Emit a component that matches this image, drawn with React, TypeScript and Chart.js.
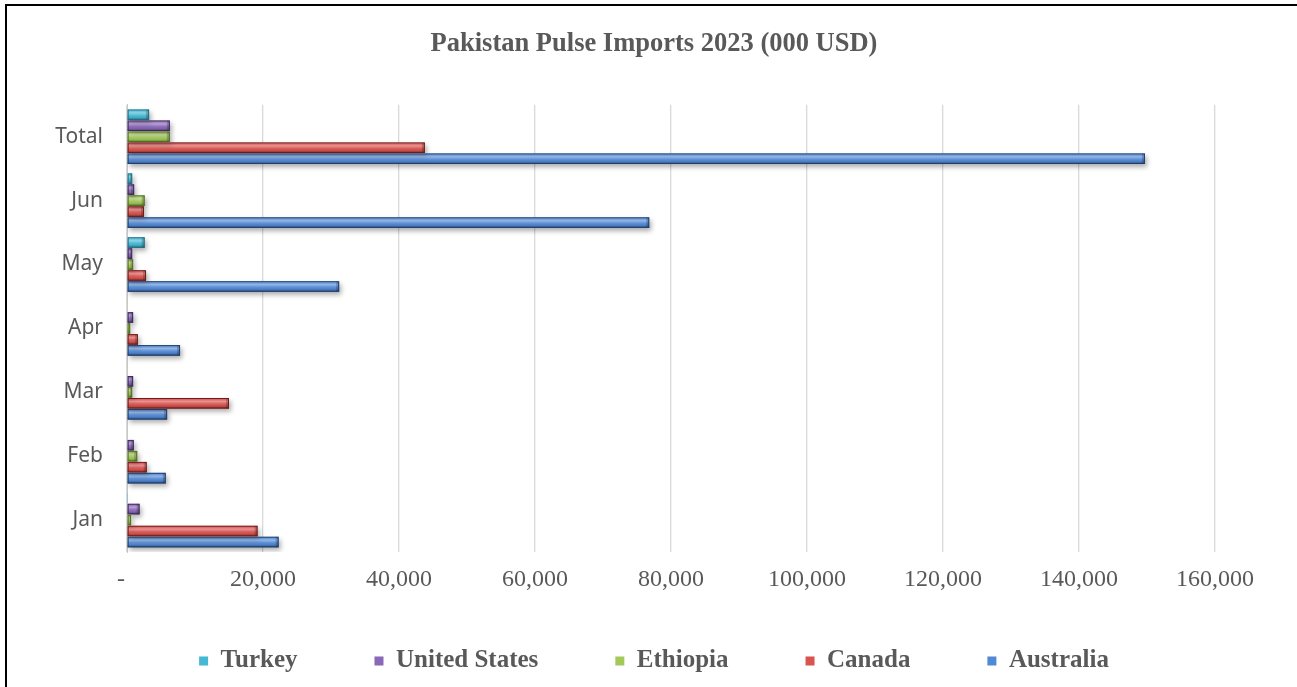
import React, { useEffect, useRef } from "react";
import { Chart, registerables } from "chart.js";

Chart.register(...registerables);

// ---- data (thousand USD) ----
const categories = ["Jan", "Feb", "Mar", "Apr", "May", "Jun", "Total"];
const turkey = [50, 0, 0, 0, 2600, 760, 3250];
const unitedStates = [1850, 1000, 900, 900, 760, 1050, 6300];
const ethiopia = [600, 1500, 760, 470, 900, 2600, 6300];
const canada = [19200, 2900, 15000, 1600, 2800, 2500, 43800];
const australia = [22300, 5700, 5900, 7800, 31200, 76800, 149700];

const seriesNames = ["Turkey", "United States", "Ethiopia", "Canada", "Australia"];
const seriesValues = [turkey, unitedStates, ethiopia, canada, australia];
const seriesFill = ["#45B8D4", "#8A68B8", "#A2C95A", "#D9534F", "#5289D4"];
const seriesEdge = ["#226F84", "#3E2A5E", "#546F22", "#6E1C1A", "#223F6C"];

const xMin = 0;
const xMax = 160000;
const xStep = 20000;

const TEXT = "#595959";
const SERIF = "'Liberation Serif', 'Times New Roman', serif";
const SANS = "'Noto Sans', 'Open Sans', sans-serif";
const Y_FONT_SIZE = 21;

const bevelPlugin = {
  id: "bevel",
  beforeDatasetsDraw(chart: any) {
    const ctx = chart.ctx;
    ctx.save();
    ctx.shadowColor = "rgba(0,0,0,0.33)";
    ctx.shadowBlur = 5;
    ctx.shadowOffsetX = 2;
    ctx.shadowOffsetY = 3;
  },
  afterDatasetsDraw(chart: any) {
    const ctx = chart.ctx;
    ctx.restore();
    chart.data.datasets.forEach((ds: any, i: number) => {
      const meta = chart.getDatasetMeta(i);
      if (meta.hidden) return;
      meta.data.forEach((el: any) => {
        const p = el.getProps(["x", "y", "base", "height"], true);
        const left = Math.min(p.x, p.base);
        const right = Math.max(p.x, p.base);
        const w = right - left;
        if (w < 0.6) return;
        const h = p.height;
        const top = p.y - h / 2;
        ctx.save();
        const g = ctx.createLinearGradient(0, top, 0, top + h);
        g.addColorStop(0, "rgba(255,255,255,0.5)");
        g.addColorStop(0.14, "rgba(255,255,255,0.12)");
        g.addColorStop(0.32, "rgba(255,255,255,0.38)");
        g.addColorStop(0.55, "rgba(255,255,255,0.08)");
        g.addColorStop(0.75, "rgba(0,0,0,0.06)");
        g.addColorStop(1, "rgba(0,0,0,0.45)");
        ctx.fillStyle = g;
        ctx.fillRect(left, top, w, h);
        const ew = Math.min(3, w / 2);
        ctx.fillStyle = "rgba(0,0,0,0.2)";
        ctx.fillRect(right - ew, top, ew, h);
        ctx.strokeStyle = ds.edgeColor;
        ctx.lineWidth = 1;
        ctx.strokeRect(left + 0.5, top + 0.5, Math.max(w - 1, 0), h - 1);
        ctx.restore();
      });
    });
  },
};

export default function App() {
  const canvasRef = useRef<HTMLCanvasElement | null>(null);

  useEffect(() => {
    const canvas = canvasRef.current;
    if (!canvas) return;

    // widest category label, so that the mirrored labels are right aligned outside the plot
    const mctx = document.createElement("canvas").getContext("2d")!;
    mctx.font = `normal ${Y_FONT_SIZE}px ${SANS}`;
    const widest = Math.max(...categories.map((c) => mctx.measureText(c).width));

    const datasets = seriesNames.map((name, i) => ({
      label: name,
      data: seriesValues[i],
      backgroundColor: seriesFill[i],
      borderWidth: 0,
      edgeColor: seriesEdge[i],
      categoryPercentage: 0.86,
      barPercentage: 0.96,
    }));

    const chart = new Chart(canvas, {
      type: "bar",
      data: { labels: categories, datasets: datasets as any },
      plugins: [bevelPlugin],
      options: {
        indexAxis: "y",
        animation: false,
        responsive: true,
        maintainAspectRatio: false,
        layout: { padding: { left: 93, right: 82, top: 0, bottom: 3.5 } },
        scales: {
          x: {
            type: "linear",
            min: xMin,
            max: xMax,
            border: { display: false },
            grid: { color: "#d9d9d9", lineWidth: 1.3, drawTicks: false },
            ticks: {
              stepSize: xStep,
              mirror: true,
              padding: -42.4,
              color: TEXT,
              font: { family: SERIF, size: 24 },
              callback: (v: any) => (Number(v) === 0 ? "-  " : Number(v).toLocaleString("en-US")),
            },
            afterFit: (s: any) => {
              s.height = 19.5;
            },
          },
          y: {
            reverse: true,
            border: { display: true, color: "#c8c8c8", width: 1 },
            grid: { display: false, drawTicks: false },
            ticks: {
              mirror: true,
              crossAlign: "far",
              padding: -24 - widest,
              color: TEXT,
              font: { family: SANS, size: Y_FONT_SIZE },
            },
            afterFit: (s: any) => {
              s.width = 34;
            },
          },
        },
        plugins: {
          title: {
            display: true,
            text: "Pakistan Pulse Imports 2023 (000 USD)",
            color: TEXT,
            font: { family: SERIF, size: 26.5, weight: "bold" },
            padding: { top: 28, bottom: 45 },
          },
          legend: {
            position: "bottom",
            labels: {
              boxWidth: 9,
              boxHeight: 9,
              padding: 77,
              color: TEXT,
              font: { family: SERIF, size: 25, weight: "bold" },
            },
          },
          tooltip: { enabled: false },
        },
      },
    });
    return () => chart.destroy();
  }, []);

  return (
    <div style={{ position: "fixed", left: 0, top: 0, width: 1297, height: 687, overflow: "hidden", background: "#fff" }}>
      <div style={{ position: "absolute", left: 0, top: 0, width: 1297, height: 687 }}>
        <canvas ref={canvasRef} />
      </div>
      <div
        style={{
          position: "absolute",
          left: 5,
          top: 4,
          width: 1400,
          height: 800,
          borderLeft: "2px solid #000",
          borderTop: "2px solid #000",
          pointerEvents: "none",
        }}
      />
    </div>
  );
}
